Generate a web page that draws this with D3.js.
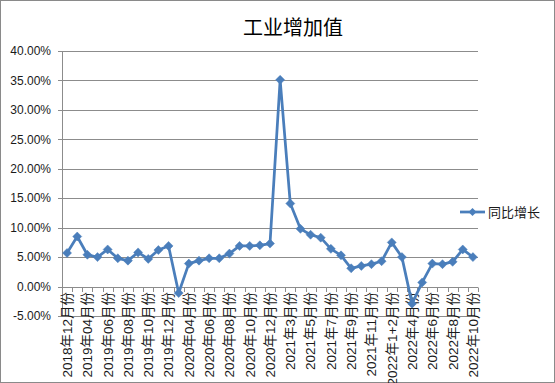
<!DOCTYPE html>
<html><head><meta charset="utf-8">
<script src="https://cdn.jsdelivr.net/npm/d3@7"></script>
<style>html,body{margin:0;padding:0;background:#fff}svg{display:block}</style>
</head><body><svg id="c" width="555" height="383"></svg>
<script>
const categories = ["2018年12月份","2019年03月份","2019年04月份","2019年05月份","2019年06月份","2019年07月份","2019年08月份","2019年09月份","2019年10月份","2019年11月份","2019年12月份",
"2020年03月份","2020年04月份","2020年05月份","2020年06月份","2020年07月份","2020年08月份","2020年09月份","2020年10月份","2020年11月份","2020年12月份",
"2021年1+2月份","2021年3月份","2021年4月份","2021年5月份","2021年6月份","2021年7月份","2021年8月份","2021年9月份","2021年10月份","2021年11月份","2021年12月份",
"2022年1+2月份","2022年3月份","2022年4月份","2022年5月份","2022年6月份","2022年7月份","2022年8月份","2022年9月份","2022年10月份"];
const values = [5.7,8.5,5.4,5.0,6.3,4.8,4.4,5.8,4.7,6.2,6.9,
-1.1,3.9,4.4,4.8,4.8,5.6,6.9,6.9,7.0,7.3,
35.1,14.1,9.8,8.8,8.3,6.4,5.3,3.1,3.5,3.8,4.3,
7.5,5.0,-2.9,0.7,3.9,3.8,4.2,6.3,5.0];
const yTicks = [-5,0,5,10,15,20,25,30,35,40];
const title = "工业增加值";
const seriesName = "同比增长";

const svg = d3.select("#c");
const blue = "#4A7EBB", grid = "#8c8c8c";
svg.append("rect").attr("x",0.5).attr("y",0.5).attr("width",554).attr("height",382)
  .attr("fill","#fff").attr("stroke","#8a8a8a");

const x = d3.scaleBand().domain(categories).range([62,478]).paddingInner(0).paddingOuter(0);
const y = d3.scaleLinear().domain([-5,40]).range([316,51]);

svg.append("text").attr("x",293).attr("y",35).attr("text-anchor","middle")
  .style("font-family","'Noto Sans CJK SC'").style("font-size","20px").attr("fill","#000").text(title);

// gridlines
svg.append("g").selectAll("line").data(yTicks).join("line")
  .attr("x1",58).attr("x2",478).attr("y1",d=>Math.round(y(d))+0.5).attr("y2",d=>Math.round(y(d))+0.5)
  .attr("stroke",grid).attr("stroke-width",1);
// y axis line
svg.append("line").attr("x1",62.5).attr("x2",62.5).attr("y1",y(40)).attr("y2",y(-5)).attr("stroke",grid);
// y labels
svg.append("g").selectAll("text").data(yTicks).join("text")
  .attr("x",51).attr("y",d=>y(d)).attr("dy","0.35em").attr("text-anchor","end")
  .style("font-family","'Liberation Sans'").style("font-size","12px").attr("fill","#1a1a1a")
  .text(d=>d.toFixed(2)+"%");
// x axis ticks at category boundaries
const bounds = d3.range(categories.length+1).map(i=>62+i*x.step());
svg.append("g").selectAll("line").data(bounds).join("line")
  .attr("x1",d=>Math.round(d)+0.5).attr("x2",d=>Math.round(d)+0.5)
  .attr("y1",Math.round(y(0))+0.5).attr("y2",Math.round(y(0))+5)
  .attr("stroke",grid);
// x labels every other
svg.append("g").selectAll("text").data(categories.filter((d,i)=>i%2===0)).join("text")
  .attr("transform",d=>`translate(${x(d)+x.bandwidth()/2},${292}) rotate(-90)`)
  .attr("dy","0.36em").attr("text-anchor","end")
  .style("font-family","'Liberation Sans','Noto Sans CJK SC'").style("font-size","13.5px").attr("fill","#1a1a1a")
  .text(d=>d);

// line
const line = d3.line().x((d,i)=>x(categories[i])+x.bandwidth()/2).y(d=>y(d));
svg.append("path").datum(values).attr("d",line).attr("fill","none")
  .attr("stroke",blue).attr("stroke-width",2.75).attr("stroke-linejoin","round");
const diamond = (cx,cy,r)=>`M${cx},${cy-r}L${cx+r},${cy}L${cx},${cy+r}L${cx-r},${cy}Z`;
svg.append("g").selectAll("path").data(values).join("path")
  .attr("d",(d,i)=>diamond(x(categories[i])+x.bandwidth()/2,y(d),4.5))
  .attr("fill",blue).attr("stroke",blue).attr("stroke-width",0.5);

// legend
svg.append("line").attr("x1",460).attr("x2",485).attr("y1",212).attr("y2",212).attr("stroke",blue).attr("stroke-width",2.75);
svg.append("path").attr("d",diamond(472.5,212,4)).attr("fill",blue);
svg.append("text").attr("x",488).attr("y",212).attr("dy","0.36em")
  .style("font-family","'Noto Sans CJK SC'").style("font-size","13px").attr("fill","#1a1a1a").text(seriesName);
</script></body></html>
